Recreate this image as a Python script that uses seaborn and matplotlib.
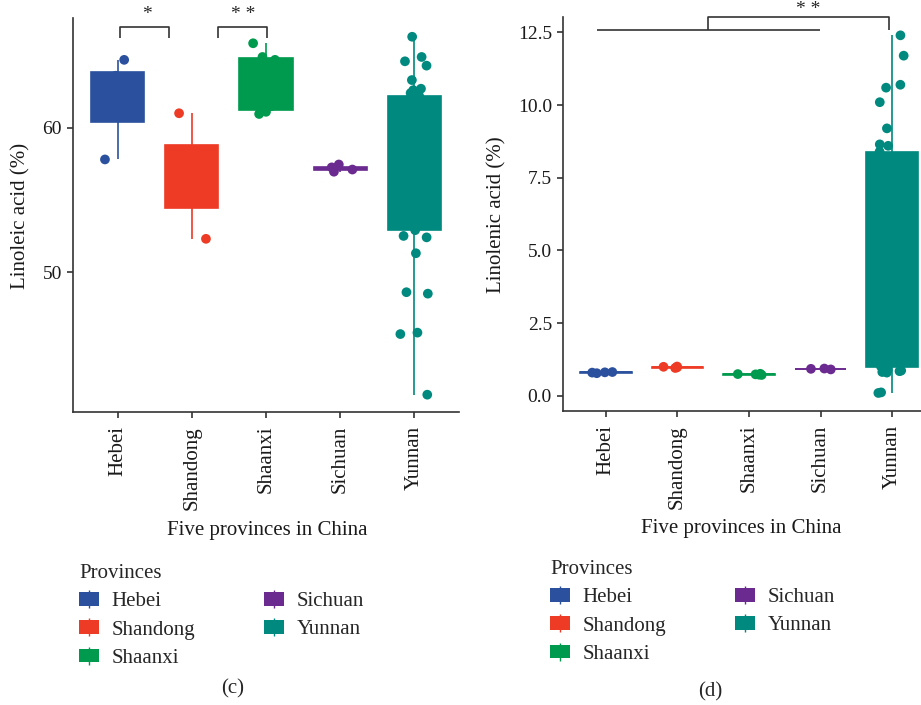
import numpy as np
import pandas as pd
import matplotlib
matplotlib.use("Agg")
import matplotlib.pyplot as plt
import seaborn as sns
from matplotlib.patches import Patch
from matplotlib.lines import Line2D
from matplotlib.legend_handler import HandlerTuple

# ---------------- data ----------------
provinces = ["Hebei", "Shandong", "Shaanxi", "Sichuan", "Yunnan"]
colors = ["#2B519E", "#EE3B25", "#009A4E", "#6B2A8F", "#00897E"]

# panel (c): linoleic acid (%)
la_hebei = [57.8, 61.3, 63.6, 64.7]
la_shandong = [52.3, 55.15, 58.07, 61.0]
la_shaanxi = [60.95, 61.1, 61.5, 64.7, 64.9, 65.85]
la_sichuan = [56.95, 57.1, 57.25, 57.45]
la_yunnan = [41.5, 45.7, 45.8, 48.5, 48.6, 51.3, 52.4, 52.5, 52.9, 53.5, 54.2,
             55.0, 55.8, 56.5, 57.2, 57.9, 58.5, 59.1, 59.8, 60.4, 60.9, 61.3,
             61.7, 62.0, 62.2, 62.4, 62.6, 62.7, 63.3, 64.3, 64.6, 64.9, 66.3]

# panel (d): linolenic acid (%)
ln_hebei = [0.78, 0.80, 0.81, 0.82]
ln_shandong = [0.96, 0.98, 1.00, 1.01]
ln_shaanxi = [0.72, 0.73, 0.74, 0.75, 0.76]
ln_sichuan = [0.91, 0.93, 0.94]
ln_yunnan = [0.10, 0.12, 0.80, 0.82, 0.85, 0.87, 0.90, 0.95, 1.01, 1.3, 1.8,
             2.4, 2.9, 3.5, 4.0, 4.6, 5.1, 5.7, 6.2, 6.8, 7.2, 7.6, 7.9, 8.2,
             8.4, 8.6, 8.65, 9.2, 10.1, 10.6, 10.7, 11.7, 12.4]

c_ticks = [50, 60]
d_ticks = [0.0, 2.5, 5.0, 7.5, 10.0, 12.5]


def long_df(groups):
    return pd.concat([pd.DataFrame({"Province": p, "value": v})
                      for p, v in zip(provinces, groups)], ignore_index=True)


df_c = long_df([la_hebei, la_shandong, la_shaanxi, la_sichuan, la_yunnan])
df_d = long_df([ln_hebei, ln_shandong, ln_shaanxi, ln_sichuan, ln_yunnan])

# ---------------- style ----------------
sns.set_style("ticks")
plt.rcParams["font.family"] = ["Liberation Serif", "DejaVu Serif"]
AX_COL = "#333333"

fig = plt.figure(figsize=(9.21, 7.05), dpi=100)
ax_c = fig.add_axes([73 / 921, 1 - 412 / 705, 386 / 921, 394 / 705])
ax_d = fig.add_axes([563 / 921, 1 - 411 / 705, 372 / 921, 394 / 705])


def panel(ax, df, ylim, yticks, fmt, seed):
    sns.boxplot(data=df, x="Province", y="value", hue="Province",
                order=provinces, hue_order=provinces, palette=colors,
                dodge=False, width=0.72, whis=1.5, showfliers=False,
                showcaps=False, linewidth=1.2, saturation=1, legend=False,
                ax=ax)
    for cont in ax.containers:
        for b in cont.boxes:
            xc = b.get_path().vertices[:, 0].mean()
            col = colors[int(round(xc))]
            b.set_facecolor(col)
            b.set_edgecolor(col)
            for ln in list(cont.whiskers) + list(cont.medians):
                ln.set_color(col)
    np.random.seed(seed)
    sns.stripplot(data=df, x="Province", y="value", hue="Province",
                  order=provinces, hue_order=provinces, palette=colors,
                  dodge=False, jitter=0.2, size=7, linewidth=0, legend=False,
                  ax=ax)
    ax.set_xlim(-0.6, 4.6)
    ax.set_ylim(*ylim)
    ax.set_yticks(yticks)
    ax.set_yticklabels([fmt.format(t) for t in yticks])
    for s in ["top", "right"]:
        ax.spines[s].set_visible(False)
    for s in ["left", "bottom"]:
        ax.spines[s].set_color(AX_COL)
        ax.spines[s].set_linewidth(1.2)
    ax.tick_params(axis="both", colors=AX_COL, length=4, width=1.2)
    ax.tick_params(axis="x", labelsize=15, labelrotation=90, pad=6,
                   labelcolor="#1a1a1a")
    ax.tick_params(axis="y", labelsize=14, pad=4, labelcolor="#1a1a1a")
    ax.set_xlabel("Five provinces in China", fontsize=15, color="#1a1a1a")


panel(ax_c, df_c, (40.3, 67.6), c_ticks, "{:.0f}", 7)
panel(ax_d, df_d, (-0.52, 13.03), d_ticks, "{:.1f}", 11)

ax_c.set_ylabel("Linoleic acid (%)", fontsize=15, color="#1a1a1a")
ax_d.set_ylabel("Linolenic acid (%)", fontsize=15, color="#1a1a1a")
for ax, lx, xx, xy in [(ax_c, -0.135, 0.503, -0.30), (ax_d, -0.178, 0.478, -0.297)]:
    ax.yaxis.label.set_va("center")
    ax.yaxis.set_label_coords(lx, 0.497)
    ax.xaxis.label.set_va("center")
    ax.xaxis.set_label_coords(xx, xy)

# significance brackets, panel (c)
br = dict(color=AX_COL, lw=1.2, clip_on=False, solid_capstyle="butt")
ax_c.plot([0.03, 0.03, 0.69, 0.69], [66.2, 67.0, 67.0, 66.2], **br)
ax_c.plot([1.35, 1.35, 2.01, 2.01], [66.2, 67.0, 67.0, 66.2], **br)
ax_c.text(0.40, 67.85, "*", ha="center", va="center", fontsize=14, clip_on=False)
ax_c.text(1.69, 67.85, "* *", ha="center", va="center", fontsize=14, clip_on=False)

# significance bracket, panel (d)
ax_d.plot([-0.13, 2.99], [12.58, 12.58], **br)
ax_d.plot([1.43, 1.43, 3.96, 3.96], [12.58, 13.03, 13.03, 12.58], **br)
ax_d.text(2.83, 13.58, "* *", ha="center", va="top", fontsize=14, clip_on=False)

# legends
def make_legend(x, y):
    handles = [(Patch(facecolor=c, edgecolor="none"),
                Line2D([], [], color=c, marker="|", linestyle="None",
                       markersize=13, markeredgewidth=1.0)) for c in colors]
    fig.legend(handles, provinces, title="Provinces", loc="upper left",
               bbox_to_anchor=(x, y), ncol=2, frameon=False,
               handler_map={tuple: HandlerTuple(ndivide=1)},
               fontsize=15, title_fontsize=15, handlelength=0.95,
               handleheight=0.62, handletextpad=0.62, columnspacing=3.3,
               labelspacing=0.44, borderpad=0, borderaxespad=0,
               alignment="left")


make_legend(79 / 921, 1 - 564 / 705)
make_legend(550 / 921, 1 - 560 / 705)

fig.text(233 / 921, 1 - 689 / 705, "(c)", ha="center", va="center", fontsize=15)
fig.text(710 / 921, 1 - 692 / 705, "(d)", ha="center", va="center", fontsize=15)

fig.savefig("out.png", dpi=100)
